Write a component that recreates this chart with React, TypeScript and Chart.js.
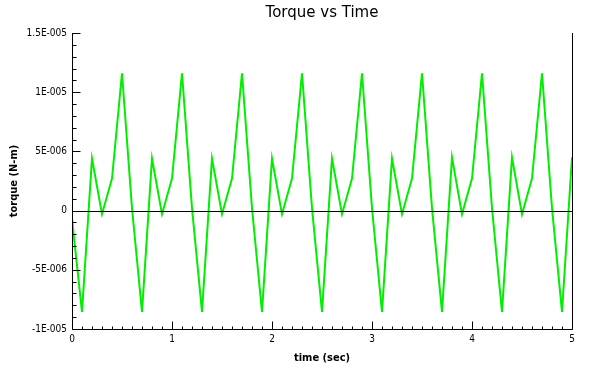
import React, { useEffect, useRef } from "react";
import { Chart, registerables } from "chart.js";

Chart.register(...registerables);

const times: number[] = [
  0.0, 0.1, 0.2, 0.3, 0.4, 0.5, 0.6, 0.7, 0.8, 0.9,
  1.0, 1.1, 1.2, 1.3, 1.4, 1.5, 1.6, 1.7, 1.8, 1.9,
  2.0, 2.1, 2.2, 2.3, 2.4, 2.5, 2.6, 2.7, 2.8, 2.9,
  3.0, 3.1, 3.2, 3.3, 3.4, 3.5, 3.6, 3.7, 3.8, 3.9,
  4.0, 4.1, 4.2, 4.3, 4.4, 4.5, 4.6, 4.7, 4.8, 4.9,
  5.0,
];

const torque: number[] = [
  -0.7e-6, -8.55e-6, 4.4e-6, -0.3e-6, 2.7e-6, 11.6e-6, 0.2e-6, -8.55e-6, 4.4e-6, -0.3e-6,
  2.7e-6, 11.6e-6, 0.2e-6, -8.55e-6, 4.4e-6, -0.3e-6, 2.7e-6, 11.6e-6, 0.2e-6, -8.55e-6,
  4.4e-6, -0.3e-6, 2.7e-6, 11.6e-6, 0.2e-6, -8.55e-6, 4.4e-6, -0.3e-6, 2.7e-6, 11.6e-6,
  0.2e-6, -8.55e-6, 4.4e-6, -0.3e-6, 2.7e-6, 11.6e-6, 0.2e-6, -8.55e-6, 4.5e-6, -0.3e-6,
  2.7e-6, 11.6e-6, 0.2e-6, -8.55e-6, 4.5e-6, -0.3e-6, 2.7e-6, 11.6e-6, 0.2e-6, -8.55e-6,
  4.5e-6,
];

const yTickValues: number[] = [-1e-5, -5e-6, 0, 5e-6, 1e-5, 1.5e-5];
const yTickLabels: string[] = ["-1E-005", "-5E-006", "0", "5E-006", "1E-005", "1.5E-005"];
const xTickValues: number[] = [0, 1, 2, 3, 4, 5];
const xTickLabels: string[] = ["0", "1", "2", "3", "4", "5"];

const TITLE = "Torque vs Time";
const X_TITLE = "time (sec)";
const Y_TITLE = "torque (N-m)";

const decorPlugin = {
  id: "decor",
  afterDatasetsDraw(chart: any) {
    const ctx = chart.ctx as CanvasRenderingContext2D;
    const { left, right, top, bottom } = chart.chartArea;
    const xs = chart.scales.x;
    const ys = chart.scales.y;
    ctx.save();
    ctx.strokeStyle = "#000";
    ctx.lineWidth = 1;
    // zero line
    const y0 = Math.round(ys.getPixelForValue(0)) + 0.5;
    ctx.beginPath();
    ctx.moveTo(left, y0);
    ctx.lineTo(right, y0);
    ctx.stroke();
    // borders: left, bottom, right
    const L = Math.round(left) + 0.5;
    const R = Math.round(right) + 0.5;
    const B = Math.round(bottom) + 0.5;
    ctx.beginPath();
    ctx.moveTo(L, top);
    ctx.lineTo(L, B);
    ctx.lineTo(R, B);
    ctx.lineTo(R, top);
    ctx.stroke();
    // y ticks (minor each 1e-6, major each 5e-6)
    ctx.beginPath();
    for (let i = -10; i <= 15; i++) {
      const py = Math.round(ys.getPixelForValue(i * 1e-6)) + 0.5;
      const len = i % 5 === 0 ? 8 : 4;
      ctx.moveTo(L, py);
      ctx.lineTo(L + len, py);
    }
    // x ticks (minor each 0.1, major each 1)
    for (let i = 0; i <= 50; i++) {
      const px = Math.round(xs.getPixelForValue(i / 10)) + 0.5;
      const len = i % 10 === 0 ? 8 : 3;
      ctx.moveTo(px, B);
      ctx.lineTo(px, B - len);
    }
    ctx.stroke();

    ctx.fillStyle = "#000";
    // y tick labels
    ctx.font = "10px 'DejaVu Sans Condensed', 'Liberation Sans Narrow', sans-serif";
    ctx.textAlign = "right";
    ctx.textBaseline = "middle";
    yTickValues.forEach((v, i) => {
      ctx.fillText(yTickLabels[i], left - 5, ys.getPixelForValue(v));
    });
    // x tick labels
    ctx.textAlign = "center";
    ctx.textBaseline = "top";
    xTickValues.forEach((v, i) => {
      ctx.fillText(xTickLabels[i], xs.getPixelForValue(v), bottom + 5);
    });
    // axis titles
    const cx = (left + right) / 2;
    const cy = (top + bottom) / 2;
    ctx.font = "bold 11px 'DejaVu Sans Condensed', 'DejaVu Sans', sans-serif";
    ctx.textBaseline = "middle";
    ctx.fillText(X_TITLE, cx, 358);
    ctx.save();
    ctx.translate(14, cy);
    ctx.rotate(-Math.PI / 2);
    ctx.fillText(Y_TITLE, 0, 0);
    ctx.restore();
    // main title
    ctx.font = "15px 'DejaVu Sans', sans-serif";
    ctx.fillText(TITLE, cx, 13);
    ctx.restore();
  },
};

export default function App() {
  const canvasRef = useRef<HTMLCanvasElement | null>(null);

  useEffect(() => {
    const canvas = canvasRef.current;
    if (!canvas) return;
    const chart = new Chart(canvas, {
      type: "line",
      data: {
        datasets: [
          {
            data: times.map((t, i) => ({ x: t, y: torque[i] })),
            borderColor: "#00ee00",
            borderWidth: 2,
            pointRadius: 0,
            tension: 0,
            fill: false,
          },
        ],
      },
      options: {
        responsive: false,
        animation: false,
        devicePixelRatio: 1,
        layout: { padding: { left: 0, right: 27, top: 33, bottom: 0 } },
        plugins: {
          legend: { display: false },
          title: { display: false },
          tooltip: { enabled: false },
        },
        scales: {
          x: {
            type: "linear",
            min: 0,
            max: 5,
            grid: { display: false },
            border: { display: false },
            ticks: { display: false },
            afterFit: (s: any) => {
              s.height = 41;
            },
          },
          y: {
            type: "linear",
            min: -1e-5,
            max: 1.5e-5,
            grid: { display: false },
            border: { display: false },
            ticks: { display: false },
            afterFit: (s: any) => {
              s.width = 72;
            },
          },
        },
      },
      plugins: [decorPlugin],
    });
    return () => chart.destroy();
  }, []);

  return (
    <div style={{ position: "fixed", left: 0, top: 0, width: 599, height: 370, background: "#fff" }}>
      <canvas ref={canvasRef} width={599} height={370} style={{ width: 599, height: 370 }} />
    </div>
  );
}
